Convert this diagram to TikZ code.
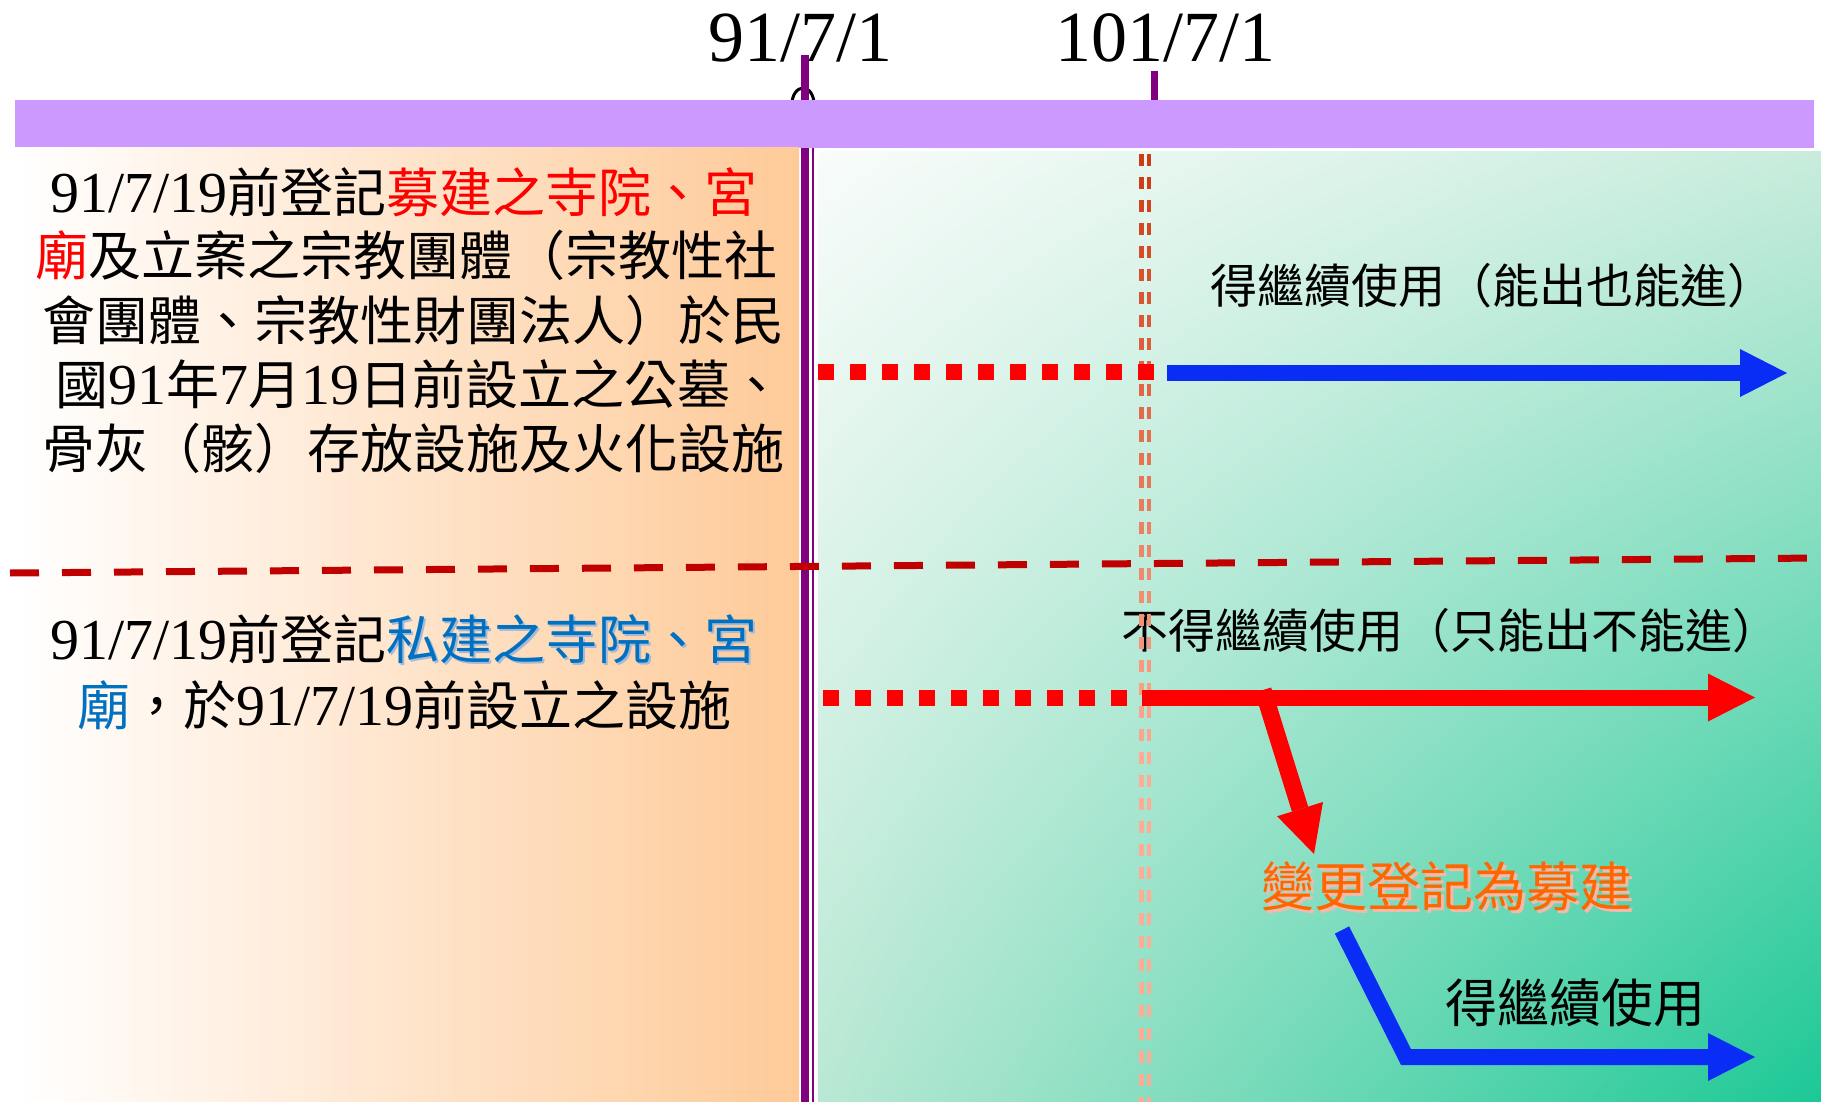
\documentclass[tikz,border=0pt]{standalone}
\usepackage{fontspec}
\setmainfont{Noto Sans CJK TC}
\newfontfamily\numfont{Liberation Serif}
\usetikzlibrary{arrows.meta,shadings}
\definecolor{barpurple}{RGB}{204,153,255}
\definecolor{linepurple}{RGB}{128,0,128}
\definecolor{panelorange}{RGB}{254,202,152}
\definecolor{gTL}{RGB}{248,252,250}
\definecolor{gTR}{RGB}{200,236,220}
\definecolor{gBL}{RGB}{185,232,212}
\definecolor{gBR}{RGB}{28,200,150}
\definecolor{tred}{RGB}{255,0,0}
\definecolor{tblue}{RGB}{0,112,192}
\definecolor{tshadow}{RGB}{165,185,215}
\definecolor{torange}{RGB}{255,102,0}
\definecolor{oshadow}{RGB}{245,185,170}
\definecolor{darkred}{RGB}{192,0,0}
\definecolor{arrblue}{RGB}{10,45,245}
\definecolor{vtop}{RGB}{205,60,20}
\definecolor{vbot}{RGB}{255,172,150}
\newcommand{\nm}[1]{{\numfont\fontsize{58}{58}\selectfont #1}}
\newcommand{\shtext}[3]{\leavevmode\rlap{\kern2.5pt\raisebox{-2.5pt}{\textcolor{#3}{#1}}}\textcolor{#2}{#1}}
\tikzset{
  lefttext/.style={anchor=base west, inner sep=0pt, font=\fontsize{53}{60}\selectfont},
  righttext/.style={anchor=base, inner sep=0pt, font=\fontsize{47}{55}\selectfont},
  datelabel/.style={anchor=base, inner sep=0pt, font=\numfont\fontsize{72}{80}\selectfont},
  bigarrow/.style={line width=16pt, line cap=butt, -{Triangle[length=47pt,width=48pt,line width=0pt]}},
  sqdots/.style={draw=tred, line width=16pt, dash pattern=on 16pt off 16pt},
}
\begin{document}
\begin{tikzpicture}[x=1pt,y=-1pt]
\fill[white] (0,0) rectangle (1821,1102);
\useasboundingbox (0,0) rectangle (1821,1102);

% marker circle and ticks
\draw[line width=3pt] (803,104) ellipse [x radius=11, y radius=16];
\draw[linepurple, line width=8pt] (805,55) -- (805,1102);
\draw[linepurple, line width=7pt] (1154,71) -- (1154,101);

% time bar
\fill[barpurple] (15,100) rectangle (1814,148);

% panels
\shade[left color=white, right color=panelorange] (15,148) rectangle (799,1102);
\shade[upper left=gTL, upper right=gTR, lower left=gBL, lower right=gBR] (818,152) rectangle (1821,1102);
\draw[linepurple, line width=2.5pt] (813,148) -- (813,1102);

% date labels
\node[datelabel] (d91) at (800,62) {91/7/1};
\node[datelabel] (d101) at (1165,62) {101/7/1};

% upper left block
\node[lefttext] (u1) at (50,213) {\nm{91/7/19}前登記\textcolor{tred}{募建之寺院、宮}};
\node[lefttext] (u2) at (35,276) {\textcolor{tred}{廟}及立案之宗教團體（宗教性社};
\node[lefttext] (u3) at (42,340) {會團體、宗教性財團法人）於民};
\node[lefttext] (u4) at (55,404) {國\nm{91}年\nm{7}月\nm{19}日前設立之公墓、};
\node[lefttext] (u5) at (42,468) {骨灰（骸）存放設施及火化設施};

% lower left block
\node[lefttext] (p1) at (50,659) {\nm{91/7/19}前登記\shtext{私建之寺院、宮}{tblue}{tshadow}};
\node[lefttext] (p2) at (77,725) {\textcolor{tblue}{廟}，於\nm{91/7/19}前設立之設施};

% right texts
\node[righttext] (t1) at (1492,303) {得繼續使用（能出也能進）};
\node[righttext] (t2) at (1450,648) {不得繼續使用（只能出不能進）};
\node[righttext, font=\fontsize{53}{60}\selectfont] (t3) at (1447,906.5) {\shtext{變更登記為募建}{torange}{oshadow}};
\node[righttext, font=\fontsize{52}{60}\selectfont] (t4) at (1575,1022) {得繼續使用};

% 101/7/1 vertical double dashed line
\foreach \yy in {154,177,...,1100} {
  \pgfmathtruncatemacro\pp{min(100,(\yy-154)/6)}
  \draw[line width=5pt, draw=vbot!\pp!vtop] (1141.5,\yy) -- (1141.5,\yy+12);
  \draw[line width=4pt, draw=vbot!\pp!vtop] (1149,\yy) -- (1149,\yy+12);
}

% separator dashed line
\coordinate (sepL) at (10,573);
\coordinate (sepR) at (1821,558);
\draw[darkred, line width=7pt, dash pattern=on 29pt off 23pt] (sepL) -- (sepR);

% dotted lines
\coordinate (r1s) at (818,371.5);
\coordinate (r1e) at (1154,371.5);
\coordinate (r2s) at (823,697.5);
\coordinate (r2e) at (1127,697.5);
\draw[sqdots] (r1s) -- (r1e);
\draw[sqdots] (r2s) -- (r2e);

% arrows
\coordinate (b1s) at (1167,373);
\coordinate (b1e) at (1787,373);
\draw[bigarrow, arrblue] (b1s) -- (b1e);

\coordinate (a1s) at (1142,697.5);
\coordinate (a1e) at (1755,697.5);
\draw[bigarrow, tred] (a1s) -- (a1e);

\coordinate (a2s) at (1263,690);
\coordinate (a2e) at (1314,854);
\draw[bigarrow, tred, line width=17pt] (a2s) -- (a2e);

\coordinate (b2s) at (1342,930);
\coordinate (b2m) at (1406,1057);
\coordinate (b2e) at (1755,1057);
\draw[bigarrow, arrblue, line join=miter] (b2s) -- (b2m) -- (b2e);
\end{tikzpicture}
\end{document}
